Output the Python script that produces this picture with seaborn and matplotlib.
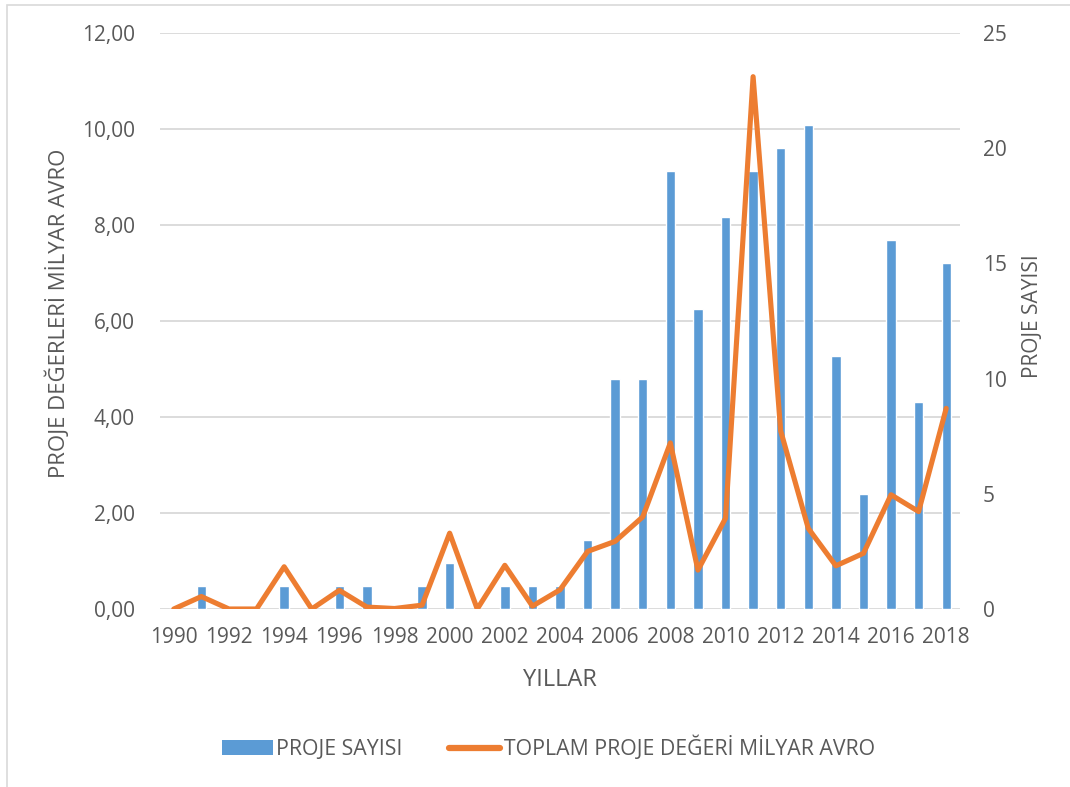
import numpy as np
import pandas as pd
import matplotlib
matplotlib.use("Agg")
import matplotlib.pyplot as plt
import seaborn as sns
from matplotlib.patches import Patch, Rectangle
from matplotlib.lines import Line2D

years = list(range(1990, 2019))
proje_sayisi = [0, 1, 0, 0, 1, 0, 1, 1, 0, 1, 2, 0, 1, 1, 1, 3, 10, 10, 19, 13,
                17, 19, 20, 21, 11, 5, 16, 9, 15]
toplam_deger = [0.0, 0.26, 0.0, 0.0, 0.88, 0.0, 0.39, 0.04, 0.01, 0.08, 1.58, 0.0,
                0.91, 0.06, 0.40, 1.20, 1.41, 1.92, 3.46, 0.81, 1.89, 11.09, 3.71,
                1.68, 0.90, 1.16, 2.38, 2.03, 4.18]
left_ticks = [0, 2, 4, 6, 8, 10, 12]
right_ticks = [0, 5, 10, 15, 20, 25]

bar_label = "PROJE SAYISI"
line_label = "TOPLAM PROJE DEĞERİ MİLYAR AVRO"

sns.set_theme(style="white")
plt.rcParams['font.family'] = ['Open Sans', 'DejaVu Sans']
txt = "#595959"
bar_color = "#5B9BD5"
line_color = "#ED7D31"
grid_color = "#D9D9D9"

df = pd.DataFrame({"year": years, "pos": np.arange(len(years)),
                   "count": proje_sayisi, "value": toplam_deger})

fig = plt.figure(figsize=(10.70, 7.87), dpi=100)
ax = fig.add_axes([160/1070, 1-609/787, 800/1070, 576/787])
ax_bar = ax.twinx()
ax_line = ax.twinx()
ax.set_zorder(0)
ax_bar.set_zorder(1)
ax_line.set_zorder(2)
ax_bar.patch.set_visible(False)
ax_line.patch.set_visible(False)

# bars
sns.barplot(data=df, x="pos", y="count", native_scale=True, color=bar_color,
            width=0.34, saturation=1, ax=ax_bar)
# line
sns.lineplot(data=df, x="pos", y="value", color=line_color, linewidth=3.7,
             ax=ax_line, solid_joinstyle="round", solid_capstyle="round")

for a in (ax, ax_bar, ax_line):
    for s in a.spines.values():
        s.set_visible(False)

ax.set_ylim(0, 12)
ax_line.set_ylim(0, 12)
ax_bar.set_ylim(0, 25)

ax_bar.set_yticks(right_ticks)
ax_bar.set_yticklabels([str(v) for v in right_ticks])
ax_bar.tick_params(axis="y", colors=txt, labelsize=15, length=0, pad=16.5)
ax_bar.set_xlabel("")
ax_bar.set_ylabel(bar_label, color=txt, fontsize=15)
ax_bar.yaxis.set_label_coords(1.09, 0.509)
ax_bar.yaxis.label.set_va("center")
ax_bar.grid(False)

ax_line.set_yticks([])
ax_line.set_xlabel("")
ax_line.set_ylabel("")
ax_line.grid(False)

# primary axis: ticks, grid, labels (set last since x is shared)
ax.set_xlim(-0.5, len(years) - 0.5)
ax.set_yticks(left_ticks)
ax.set_yticklabels([f"{v:.2f}".replace(".", ",") for v in left_ticks])
ax.yaxis.grid(True, color=grid_color, linewidth=1.3)
ax.xaxis.grid(False)
ax.set_xticks(df["pos"][::2])
ax.set_xticklabels([str(y) for y in years[::2]])
ax.tick_params(axis="x", colors=txt, labelsize=15, length=0, pad=13)
ax.tick_params(axis="y", colors=txt, labelsize=15, length=0, pad=18)
ax.set_xlabel("YILLAR", color=txt, fontsize=17)
ax.xaxis.set_label_coords(0.5, -0.123)
ax.xaxis.label.set_va("center")
ax.set_ylabel("PROJE DEĞERLERİ MİLYAR AVRO", color=txt, fontsize=16)
ax.yaxis.set_label_coords(-0.1275, 0.514)
ax.yaxis.label.set_va("center")

handles = [Patch(facecolor=bar_color, edgecolor="none", label=bar_label),
           Line2D([0], [0], color=line_color, linewidth=4.5, label=line_label,
                  solid_capstyle="round")]
leg = fig.legend(handles=handles, loc="center", bbox_to_anchor=(0.5126, 1-748/787),
                 ncol=2, frameon=False, fontsize=15.3, handlelength=2.4,
                 handletextpad=0.15, columnspacing=2.2)
for t in leg.get_texts():
    t.set_color(txt)

fig.patches.append(Rectangle((7/1070, -0.01), 1.1, 1-5/787+0.01,
                             transform=fig.transFigure, fill=False,
                             edgecolor=grid_color, linewidth=1.2))

fig.savefig("out.png", dpi=100)
